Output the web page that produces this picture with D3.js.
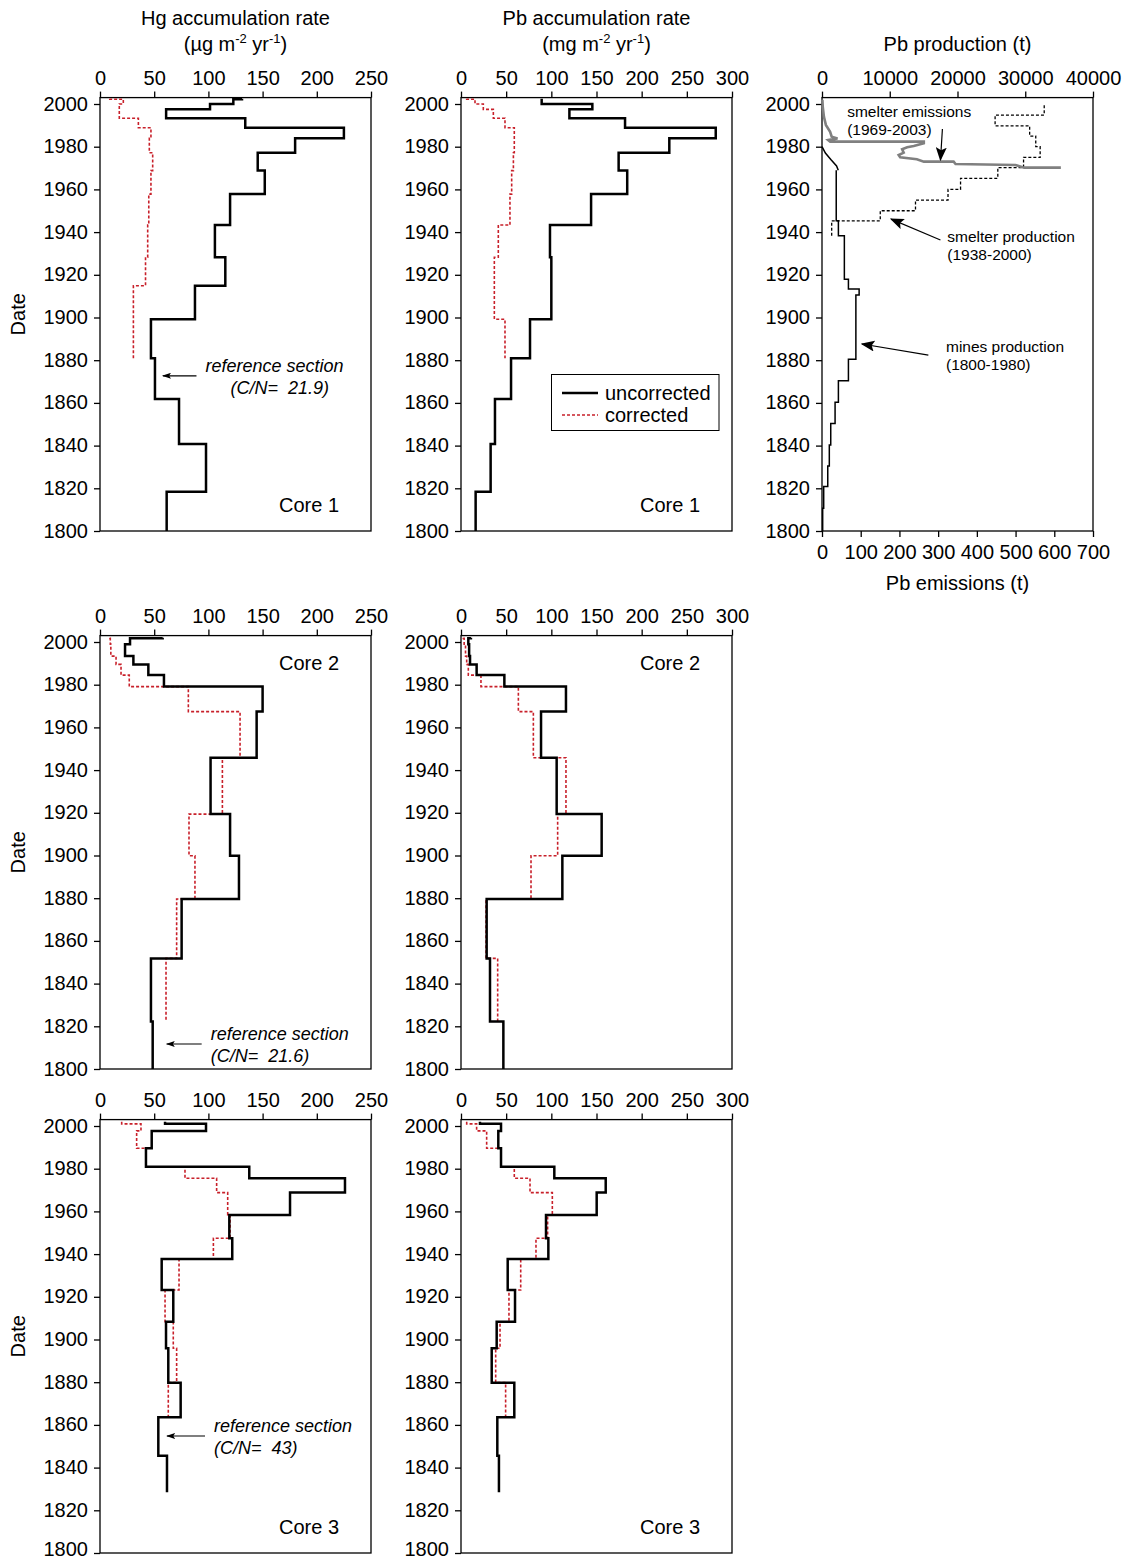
<!DOCTYPE html>
<html>
<head>
<meta charset="utf-8">
<script src="https://cdn.jsdelivr.net/npm/d3@7"></script>
<style>
body { margin: 0; background: #fff; }
svg text { font-family: "Liberation Sans", Arial, sans-serif; fill: #000; }
</style>
</head>
<body>
<script>
const W = 1129, H = 1561
const plotW = 271
const pxPerYear = 2.135
const colX = [100, 461, 822]
const rowBottom = [531, 1069, 1553]
const red = '#c8202a'
const grey = '#808080'

const yearTicks = d3.range(1800, 2001, 20)
const hgTicks = [0, 50, 100, 150, 200, 250]
const pbTicks = [0, 50, 100, 150, 200, 250, 300]
const prodTicks = [0, 10000, 20000, 30000, 40000]
const emisTicks = [0, 100, 200, 300, 400, 500, 600, 700]

// core 1 (step boundaries, top to bottom; one value per interval)
const core1Years = [2002.5, 2002.2, 2000, 1997.5, 1993.3, 1988.9, 1983.9, 1977.2, 1968.8, 1957.8, 1943.3, 1928.2, 1914.9, 1899.2, 1880.9, 1861.8, 1840.8, 1818.4, 1800]
const hg1Raw = [131, 123, 101.5, 61, 134, 225, 180, 145.5, 152, 120, 106, 115.6, 87.6, 47, 50.7, 72.9, 97.8, 61.5]
const hg1Cor = [9, 21.5, 17.8, 17.8, 35.4, 47, 45.5, 48.6, 47, 45, 44, 42, 30.8, 30.8]
const pb1Raw = [89.3, 89.3, 145.4, 120, 181.6, 282, 230.6, 174.5, 184, 144, 98.5, 100, 100, 76.4, 55.4, 37.6, 32.8, 16.2]
const pb1Cor = [6.3, 15.5, 24.7, 35.8, 48.7, 59, 59, 58, 56.1, 54.2, 41.3, 36.9, 36.9, 48.7]

// core 2
const core2Years = [2002, 2001.7, 1999, 1993.4, 1989.5, 1984.5, 1979.1, 1967.4, 1945.8, 1919.4, 1899.9, 1879.6, 1851.8, 1822.2, 1800]
const hg2Raw = [57.8, 27.7, 23.1, 30.8, 44.6, 59, 150, 144.5, 102, 120, 128.2, 75.3, 47, 48.6]
const hg2Cor = [9.2, 9.5, 10, 14.8, 19.4, 27, 81.5, 129.2, 112.9, 82.1, 87.6, 70.7, 60.9]
const pb2Raw = [11, 8.1, 9, 10, 17.3, 48, 116.2, 88.6, 105.9, 155.7, 112.2, 28.4, 32.1, 46.9]
const pb2Cor = [2.6, 3.5, 5, 6.3, 8.1, 22.1, 63.5, 80.1, 116.2, 107, 77.5, 27.7, 40.6]

// core 3
const core3Years = [2002, 2001, 1997.7, 1989.6, 1980.9, 1975.5, 1968.8, 1958.3, 1947.4, 1937.7, 1923.2, 1908.3, 1895.9, 1879.8, 1863.6, 1845.5, 1828.5]
const hg3Raw = [60, 97.8, 47.7, 42.4, 137.7, 226, 175.3, 119.3, 122, 56.9, 67.6, 60.9, 63, 74.4, 53.8, 61.8]
const hg3Cor = [20, 37.8, 33.8, 42.4, 78.4, 107.6, 117.8, 120, 104.6, 72.9, 60, 67.6, 70.7, 63]
const pb3Raw = [21, 44.3, 41.3, 44.3, 103.3, 160.2, 150.2, 94.1, 96.7, 51.7, 59.8, 39.5, 34, 59, 40.2, 42]
const pb3Cor = [6.3, 17.3, 28.4, 44.3, 59, 76.4, 101.1, 95.9, 83, 66.1, 53.1, 43.2, 38.4, 49.4]

// Pb production / emissions (t)
const mineYears = [1800, 1810.6, 1820.8, 1830.4, 1840.3, 1850.4, 1860.3, 1870.4, 1880.4, 1910.5, 1913.3, 1917.9, 1938.3, 1945.3, 1969]
const mineValues = [100, 250, 850, 1080, 1290, 1930, 2420, 3900, 5000, 5480, 3900, 3300, 2420, 2100]
const mineTailYears = [1969, 1971, 1974, 1977, 1980]
const mineTailValues = [2400, 2150, 1300, 500, 0]
const smelterYears = [1938.3, 1945.3, 1950, 1955, 1960, 1965.2, 1970.2, 1975, 1980, 1985, 1989.8, 1994.8, 2000]
const smelterValues = [1430, 8600, 13800, 18600, 20450, 25950, 29750, 32200, 31550, 30650, 25550, 32800]
const emisYears = [1970.2, 1970.2, 1971.4, 1971.9, 1973, 1973, 1974.1, 1975, 1976.1, 1977.2, 1978.8, 1979.7, 1980.3, 1981.6, 1982.4, 1982.4, 1983.1, 1983.9, 1984.7, 1987, 1990.2, 1994, 1998.7, 2002]
const emisValues = [617, 522, 500, 345, 340, 263, 245, 202, 198, 211, 207, 220, 237, 263, 263, 21, 16, 40, 25, 21, 10, 5, 2, 1]

const svg = d3.select('body').append('svg').attr('width', W).attr('height', H)

const defs = svg.append('defs')
function marker(id, w, h) {
  defs.append('marker').attr('id', id).attr('viewBox', '0 0 10 10')
      .attr('refX', 9).attr('refY', 5).attr('markerWidth', w).attr('markerHeight', h)
      .attr('markerUnits', 'userSpaceOnUse').attr('orient', 'auto').attr('preserveAspectRatio', 'none')
      .append('path').attr('d', 'M0,0L10,5L0,10L2,5Z').attr('fill', '#000')
}
marker('headS', 9, 6)
marker('headB', 14, 11)

function steps(years, values) {
  const pts = []
  values.forEach((v, i) => { pts.push([v, years[i]], [v, years[i + 1]]) })
  return pts
}
function vertices(years, values) {
  return values.map((v, i) => [v, years[i]])
}

function panel(col, row, xDomain, xTicks) {
  const left = colX[col], bottom = rowBottom[row]
  const top = bottom - 203 * pxPerYear
  const x = d3.scaleLinear().domain(xDomain).range([left, left + plotW])
  const y = d3.scaleLinear().domain([1800, 2003]).range([bottom, top])
  const g = svg.append('g')
  g.append('g').attr('transform', `translate(0,${top})`)
   .call(d3.axisTop(x).tickValues(xTicks).tickFormat(d3.format('d')).tickSize(6).tickPadding(7).tickSizeOuter(0))
   .attr('font-size', 20)
  g.append('g').attr('transform', `translate(${left},0)`)
   .call(d3.axisLeft(y).tickValues(yearTicks).tickFormat(d3.format('d')).tickSize(6).tickPadding(6).tickSizeOuter(0))
   .attr('font-size', 20)
   .call(a => a.selectAll('text').attr('dy', d => (d === 1800 && bottom > H - 20) ? '0.1em' : '0.3em'))
  g.selectAll('.domain').remove()
  g.selectAll('.tick line').attr('stroke', '#000').attr('stroke-width', 1.3)
  g.append('rect').attr('x', left).attr('y', top).attr('width', plotW).attr('height', bottom - top)
   .attr('fill', 'none').attr('stroke', '#000').attr('stroke-width', 1.3)
  return {g, x, y, left, top, bottom}
}

function draw(p, pts, stroke, width, dash, xs) {
  const xsc = xs || p.x
  p.g.append('path').datum(pts)
   .attr('d', d3.line().x(d => xsc(d[0])).y(d => p.y(d[1])))
   .attr('fill', 'none').attr('stroke', stroke).attr('stroke-width', width)
   .attr('stroke-dasharray', dash)
}

// "Core n" label, bottom or top right of a panel
function coreLabel(p, txt, atTop) {
  p.g.append('text').attr('x', p.left + plotW - 32)
   .attr('y', atTop ? p.top + 34 : p.bottom - 19)
   .attr('text-anchor', 'end').attr('font-size', 20).text(txt)
}

function dateLabel(p) {
  svg.append('text').attr('transform', `translate(25,${(p.top + p.bottom) / 2}) rotate(-90)`)
     .attr('text-anchor', 'middle').attr('font-size', 20).text('Date')
}

function refSection(p, tipV, tailV, year, cn, line2dx) {
  const ay = p.y(year)
  p.g.append('line').attr('x1', p.x(tailV)).attr('x2', p.x(tipV)).attr('y1', ay).attr('y2', ay)
   .attr('stroke', '#000').attr('stroke-width', 1.2).attr('marker-end', 'url(#headS)')
  const t = p.g.append('g').attr('font-size', 18).attr('font-style', 'italic')
  t.append('text').attr('x', p.x(tailV) + 9).attr('y', ay - 4).text('reference section')
  t.append('text').attr('x', p.x(tailV) + 9 + line2dx).attr('y', ay + 18)
   .style('white-space', 'pre').text('(C/N=  ' + cn + ')')
}

// column titles
function unitTitle(cx, y, pre) {
  const t = svg.append('text').attr('x', cx).attr('y', y).attr('text-anchor', 'middle').attr('font-size', 20)
  t.append('tspan').text('(' + pre + ' m')
  t.append('tspan').attr('dy', -8).attr('font-size', 13).text('-2')
  t.append('tspan').attr('dy', 8).text(' yr')
  t.append('tspan').attr('dy', -8).attr('font-size', 13).text('-1')
  t.append('tspan').attr('dy', 8).text(')')
}
svg.append('text').attr('x', colX[0] + plotW / 2).attr('y', 25).attr('text-anchor', 'middle').attr('font-size', 20).text('Hg accumulation rate')
unitTitle(colX[0] + plotW / 2, 51, 'µg')
svg.append('text').attr('x', colX[1] + plotW / 2).attr('y', 25).attr('text-anchor', 'middle').attr('font-size', 20).text('Pb accumulation rate')
unitTitle(colX[1] + plotW / 2, 51, 'mg')
svg.append('text').attr('x', colX[2] + plotW / 2).attr('y', 51).attr('text-anchor', 'middle').attr('font-size', 20).text('Pb production (t)')

// row 1
const p11 = panel(0, 0, [0, 250], hgTicks)
draw(p11, steps(core1Years, hg1Cor), red, 1.6, '3,2')
draw(p11, steps(core1Years, hg1Raw), '#000', 2.5, null)
coreLabel(p11, 'Core 1')
refSection(p11, 58, 89, 1872.7, '21.9', 25)
dateLabel(p11)

const p12 = panel(1, 0, [0, 300], pbTicks)
draw(p12, steps(core1Years, pb1Cor), red, 1.6, '3,2')
draw(p12, steps(core1Years, pb1Raw), '#000', 2.5, null)
coreLabel(p12, 'Core 1')

// legend
const lg = p12.g.append('g')
lg.append('rect').attr('x', 551.5).attr('y', 374.5).attr('width', 167.5).attr('height', 56)
  .attr('fill', '#fff').attr('stroke', '#000').attr('stroke-width', 1)
const legendItems = [['uncorrected', '#000', 2.5, null], ['corrected', red, 1.6, '3,2']]
legendItems.forEach((d, i) => {
  const ly = 393 + i * 22
  lg.append('line').attr('x1', 562).attr('x2', 598).attr('y1', ly).attr('y2', ly)
    .attr('stroke', d[1]).attr('stroke-width', d[2]).attr('stroke-dasharray', d[3])
  lg.append('text').attr('x', 605).attr('y', ly + 7).attr('font-size', 20).text(d[0])
})

const p13 = panel(2, 0, [0, 40000], prodTicks)
const xE = d3.scaleLinear().domain([0, 700]).range([colX[2], colX[2] + plotW])
p13.g.append('g').attr('transform', `translate(0,${p13.bottom})`)
  .call(d3.axisBottom(xE).tickValues(emisTicks).tickSize(6).tickPadding(8).tickSizeOuter(0))
  .attr('font-size', 20)
  .call(g => g.select('.domain').remove())
  .call(g => g.selectAll('.tick line').attr('stroke', '#000').attr('stroke-width', 1.3))
svg.append('text').attr('x', colX[2] + plotW / 2).attr('y', 590).attr('text-anchor', 'middle').attr('font-size', 20).text('Pb emissions (t)')
draw(p13, steps(mineYears, mineValues), '#000', 1.5, null)
draw(p13, vertices(mineTailYears, mineTailValues), '#000', 1.5, null)
draw(p13, steps(smelterYears, smelterValues), '#000', 1.3, '3,2')
draw(p13, vertices(emisYears, emisValues), grey, 2.6, null, xE)

function note(p, xs, lines, tx, ty, tail, tip) {
  const t = p.g.append('g').attr('font-size', 15.5)
  lines.forEach((s, i) => t.append('text').attr('x', xs(tx)).attr('y', p.y(ty) + i * 18).text(s))
  p.g.append('line').attr('x1', xs(tail[0])).attr('y1', p.y(tail[1]))
   .attr('x2', xs(tip[0])).attr('y2', p.y(tip[1]))
   .attr('stroke', '#000').attr('stroke-width', 1.2).attr('marker-end', 'url(#headB)')
}
note(p13, xE, ['smelter emissions', '(1969-2003)'], 65, 1993.7, [311, 1988.3], [306, 1973.8])
note(p13, p13.x, ['smelter production', '(1938-2000)'], 18500, 1935.4, [17480, 1936.3], [10200, 1946.1])
note(p13, p13.x, ['mines production', '(1800-1980)'], 18300, 1883.7, [15700, 1882.4], [5900, 1887.6])

// row 2
const p21 = panel(0, 1, [0, 250], hgTicks)
draw(p21, steps(core2Years, hg2Cor), red, 1.6, '3,2')
draw(p21, steps(core2Years, hg2Raw), '#000', 2.5, null)
coreLabel(p21, 'Core 2', true)
refSection(p21, 61.5, 93.8, 1811.7, '21.6', 0)
dateLabel(p21)

const p22 = panel(1, 1, [0, 300], pbTicks)
draw(p22, steps(core2Years, pb2Cor), red, 1.6, '3,2')
draw(p22, steps(core2Years, pb2Raw), '#000', 2.5, null)
coreLabel(p22, 'Core 2', true)

// row 3
const p31 = panel(0, 2, [0, 250], hgTicks)
draw(p31, steps(core3Years, hg3Cor), red, 1.6, '3,2')
draw(p31, steps(core3Years, hg3Raw), '#000', 2.5, null)
coreLabel(p31, 'Core 3')
refSection(p31, 61.8, 96.9, 1854.8, '43', 0)
dateLabel(p31)

const p32 = panel(1, 2, [0, 300], pbTicks)
draw(p32, steps(core3Years, pb3Cor), red, 1.6, '3,2')
draw(p32, steps(core3Years, pb3Raw), '#000', 2.5, null)
coreLabel(p32, 'Core 3')
</script>
</body>
</html>
